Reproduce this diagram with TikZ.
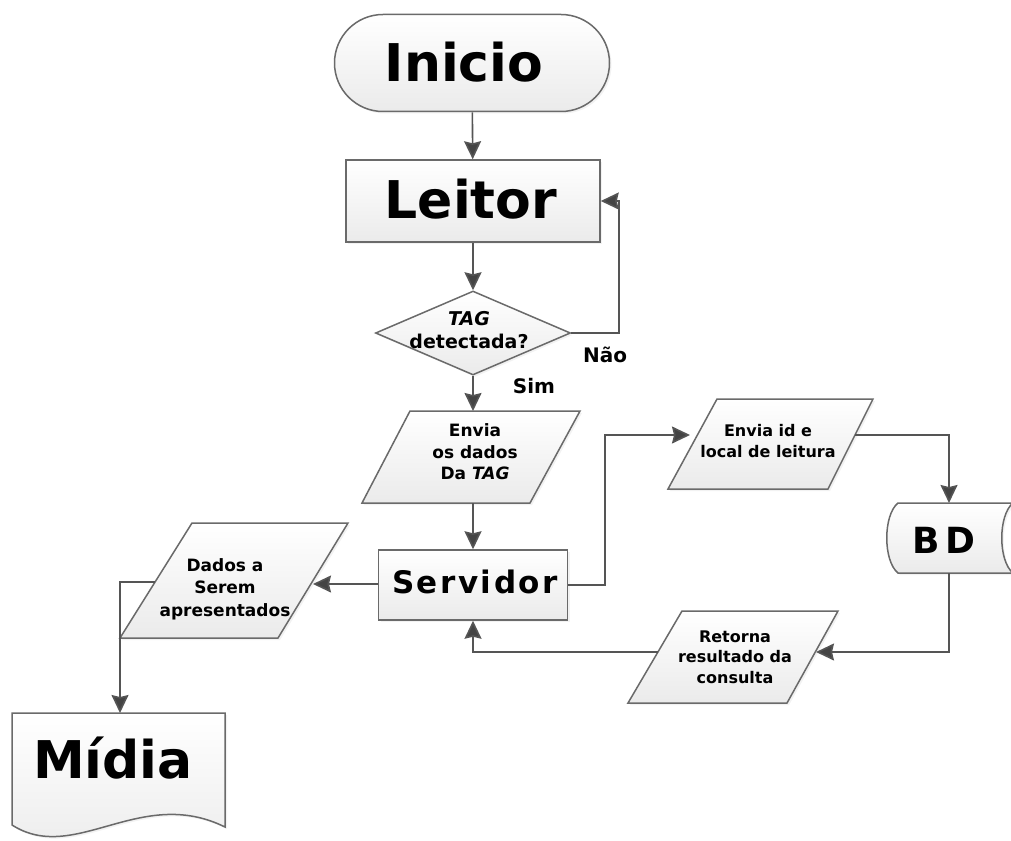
\documentclass[tikz,border=0pt]{standalone}
\usepackage{fontspec}
\setmainfont{DejaVu Sans}
\usetikzlibrary{shapes.geometric,shapes.misc,arrows.meta,shadows}
\definecolor{edgec}{HTML}{6A6A6A}
\definecolor{connc}{HTML}{555555}
\definecolor{tipc}{HTML}{444444}
\tikzset{
  shp/.style={draw=edgec, line width=1.5pt, top color=white, bottom color=black!8,
    drop shadow={opacity=0.10, shadow xshift=2pt, shadow yshift=-2pt}},
  conn/.style={draw=connc, line width=1.6pt, -{Stealth[length=18pt,width=17pt,inset=2pt,fill=tipc]}},
  bigtxt/.style={font=\bfseries\fontsize{52}{60}\selectfont, text=black, inner sep=0pt, anchor=base},
  smalltxt/.style={font=\bfseries\fontsize{17}{21.5}\selectfont, align=center, text=black, inner sep=0pt},
  lbl/.style={font=\bfseries\fontsize{20}{22}\selectfont, text=black, inner sep=0pt, anchor=base},
}
\begin{document}
\begin{tikzpicture}[x=1pt,y=-1pt]
\useasboundingbox (0,0) rectangle (1011,840);
\clip (0,0) rectangle (1011,840);
\fill[white] (0,0) rectangle (1011,840);

% Inicio
\node[shp, rounded rectangle, minimum width=275pt, minimum height=97pt, inner sep=0pt] (inicio) at (472,63) {};
\node[bigtxt] (inicioT) at (464,82) {Inicio};

% Leitor
\node[shp, rectangle, minimum width=254pt, minimum height=82pt, inner sep=0pt] (leitor) at (473,201) {};
\node[bigtxt] (leitorT) at (471,218) {Leitor};

% Decision
\node[shp, diamond, minimum width=195pt, minimum height=84pt, inner sep=0pt] (dec) at (473,333) {};
\node[smalltxt, font=\bfseries\fontsize{19}{23}\selectfont] (decT) at (469,330) {\textit{TAG}\\detectada?};
\node[lbl] (nao) at (605,362) {Não};
\node[lbl] (sim) at (534,393) {Sim};

% Envia os dados
\path[shp] (410,411) -- (580,411) -- (530,503) -- (362,503) -- cycle;
\coordinate (env-n) at (473,411);
\coordinate (env-s) at (473,503);
\node[smalltxt] (envT) at (475,452) {Envia\\os dados\\Da \textit{TAG}};

% Servidor
\node[shp, rectangle, minimum width=189pt, minimum height=70pt, inner sep=0pt] (serv) at (473,585) {};
\node[bigtxt, font=\bfseries\fontsize{31}{36}\selectfont\addfontfeatures{LetterSpace=8}] (servT) at (475,593) {Servidor};

% Dados a serem apresentados
\path[shp] (192,523) -- (348,523) -- (278,638) -- (120,638) -- cycle;
\coordinate (dad-e) at (313,584);
\coordinate (dad-w) at (155,582);
\node[smalltxt, font=\bfseries\fontsize{17}{22.5}\selectfont] (dadT) at (225,589) {Dados a\\Serem\\apresentados};

% Midia document
\path[shp] (12,713) -- (225,713) -- (225,827) .. controls (140,785) and (75,865) .. (12,825) -- cycle;
\coordinate (mid-n) at (120,713);
\node[bigtxt] (midT) at (113,778) {Mídia};

% Envia id
\path[shp] (717,399) -- (873,399) -- (828,489) -- (668,489) -- cycle;
\coordinate (eid-w) at (690,435);
\coordinate (eid-e) at (855,435);
\node[smalltxt, font=\bfseries\fontsize{16}{20.5}\selectfont] (eidT) at (768,441) {Envia id e\\local de leitura};

% BD stored data
\path[shp] (898,503) -- (1013,503) .. controls (998,515) and (998,561) .. (1013,573) -- (898,573) .. controls (883,561) and (883,515) .. (898,503) -- cycle;
\coordinate (bd-n) at (949,503);
\coordinate (bd-s) at (949,573);
\node[bigtxt, font=\bfseries\fontsize{36}{40}\selectfont\addfontfeatures{LetterSpace=14}] (bdT) at (944,553) {BD};

% Retorna
\path[shp] (682,611) -- (838,611) -- (787,703) -- (628,703) -- cycle;
\coordinate (ret-e) at (816,652);
\coordinate (ret-w) at (658,652);
\node[smalltxt, font=\bfseries\fontsize{16}{20.5}\selectfont] (retT) at (735,657) {Retorna\\resultado da\\consulta};

% Connectors
\draw[conn] (inicio) -- (leitor);
\draw[conn] (leitor) -- (dec);
\draw[conn] (dec.east) -- ++(48,0) |- (leitor.east);
\draw[conn] (dec.south) -- (env-n);
\draw[conn] (env-s) -- (serv.north);
\draw[conn] (serv.west |- dad-e) -- (dad-e);
\draw[conn] (dad-w) -| (mid-n);
\draw[conn] (serv.east) -- ++(37,0) |- (eid-w);
\draw[conn] (eid-e) -| (bd-n);
\draw[conn] (bd-s) |- (ret-e);
\draw[conn] (ret-w) -| (serv.south);
\end{tikzpicture}
\end{document}
